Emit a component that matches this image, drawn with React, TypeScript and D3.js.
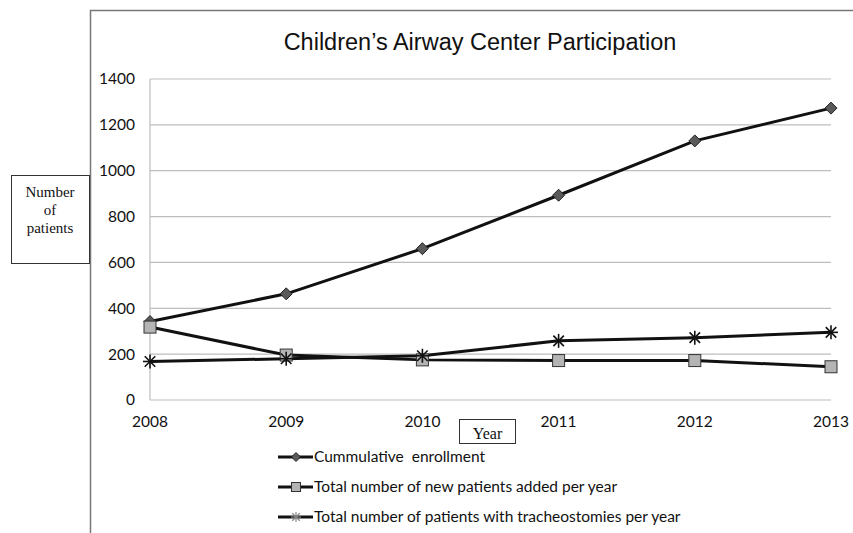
import * as d3 from 'd3';

const years = [2008, 2009, 2010, 2011, 2012, 2013];
const cumulative = [342, 463, 660, 893, 1130, 1273];
const newPatients = [318, 196, 175, 172, 172, 145];
const tracheostomies = [168, 180, 193, 258, 272, 295];
const yTicks = [0, 200, 400, 600, 800, 1000, 1200, 1400];
const legendLabels = [
    'Cummulative  enrollment',
    'Total number of new patients added per year',
    'Total number of patients with tracheostomies per year',
];

const width = 853;
const height = 533;
const marginLeft = 150;
const marginRight = 22;
const marginTop = 79;
const plotBottom = 400;

function Marker({ kind, cx, cy, r, legend = false }) {
    if (kind === 'diamond') {
        return (
            <path
                d={`M${cx},${cy - r}L${cx + r},${cy}L${cx},${cy + r}L${cx - r},${cy}Z`}
                fill="#5a5a5a"
                stroke="#222"
                strokeWidth={1}
            />
        );
    }
    if (kind === 'square') {
        return <rect x={cx - r} y={cy - r} width={r * 2} height={r * 2} fill="#b4b4b4" stroke="#333" strokeWidth={1} />;
    }
    const k = r * 0.75;
    return (
        <g stroke={legend ? '#888' : '#111'} strokeWidth={legend ? 1.2 : 1.6}>
            <line x1={cx - r} y1={cy} x2={cx + r} y2={cy} />
            <line x1={cx} y1={cy - r} x2={cx} y2={cy + r} />
            <line x1={cx - k} y1={cy - k} x2={cx + k} y2={cy + k} />
            <line x1={cx - k} y1={cy + k} x2={cx + k} y2={cy - k} />
        </g>
    );
}

export default function App() {
    const x = d3.scaleLinear([years[0], years[years.length - 1]], [marginLeft, width - marginRight]);
    const y = d3.scaleLinear([0, 1400], [plotBottom, marginTop]);
    const line = d3.line<number>()
        .x((_, i) => x(years[i]))
        .y((d) => y(d));

    const series = [
        { values: cumulative, kind: 'diamond', r: 6 },
        { values: newPatients, kind: 'square', r: 6 },
        { values: tracheostomies, kind: 'star', r: 7 },
    ];

    const tickFont = 'Lato, "Open Sans", sans-serif';
    const serif = '"Liberation Serif", "Times New Roman", serif';

    return (
        <svg width={width} height={height} style={{ position: 'absolute', left: 0, top: 0, background: '#fff' }}>
            <rect x={0} y={0} width={width} height={height} fill="#fff" />
            {/* outer chart frame */}
            <path d={`M${width + 5},10.5H90.5V${height + 5}`} fill="none" stroke="#777" strokeWidth={1.5} />

            <text x={480} y={50} textAnchor="middle" fontFamily='"Liberation Sans", Arial, sans-serif' fontSize={23.5} fill="#111">
                Children’s Airway Center Participation
            </text>

            {yTicks.map((t) => (
                <g key={t}>
                    <line x1={marginLeft} x2={width - marginRight} y1={y(t)} y2={y(t)} stroke="#bdbdbd" strokeWidth={1.2} />
                    <text x={135} y={y(t)} dy="0.35em" textAnchor="end" fontFamily={tickFont} fontSize={15.5} fill="#111">
                        {t}
                    </text>
                </g>
            ))}
            <line x1={marginLeft} x2={marginLeft} y1={marginTop} y2={plotBottom} stroke="#bdbdbd" strokeWidth={1.2} />

            {years.map((yr) => (
                <text key={yr} x={x(yr)} y={427} textAnchor="middle" fontFamily={tickFont} fontSize={15.5} fill="#111">
                    {yr}
                </text>
            ))}

            {series.map((s) => (
                <path key={s.kind} d={line(s.values)} fill="none" stroke="#111" strokeWidth={3} />
            ))}
            {series.map((s) =>
                s.values.map((v, i) => <Marker key={`${s.kind}-${i}`} kind={s.kind} r={s.r} cx={x(years[i])} cy={y(v)} />)
            )}

            {/* y axis title box */}
            <rect x={11.5} y={175.5} width={78} height={88} fill="#fff" stroke="#333" strokeWidth={1} />
            <g fontFamily={serif} fontSize={15} fill="#111" textAnchor="middle">
                <text x={50} y={197}>Number</text>
                <text x={50} y={215}>of</text>
                <text x={50} y={233}>patients</text>
            </g>

            {/* x axis title box */}
            <rect x={459.5} y={419.5} width={56} height={24} fill="#fff" stroke="#333" strokeWidth={1} />
            <text x={487.5} y={439} textAnchor="middle" fontFamily={serif} fontSize={16} fill="#111">
                Year
            </text>

            {legendLabels.map((label, i) => {
                const ly = 457 + i * 30;
                const s = series[i];
                return (
                    <g key={label}>
                        <line x1={278} x2={313} y1={ly} y2={ly} stroke="#111" strokeWidth={3} />
                        <Marker kind={s.kind} cx={296} cy={ly} r={s.kind === 'star' ? 5 : 4.5} legend />
                        <text x={314} y={ly} dy="0.35em" fontFamily={tickFont} fontSize={15.5} fill="#111" style={{ whiteSpace: 'pre' }}>
                            {label}
                        </text>
                    </g>
                );
            })}
        </svg>
    );
}
